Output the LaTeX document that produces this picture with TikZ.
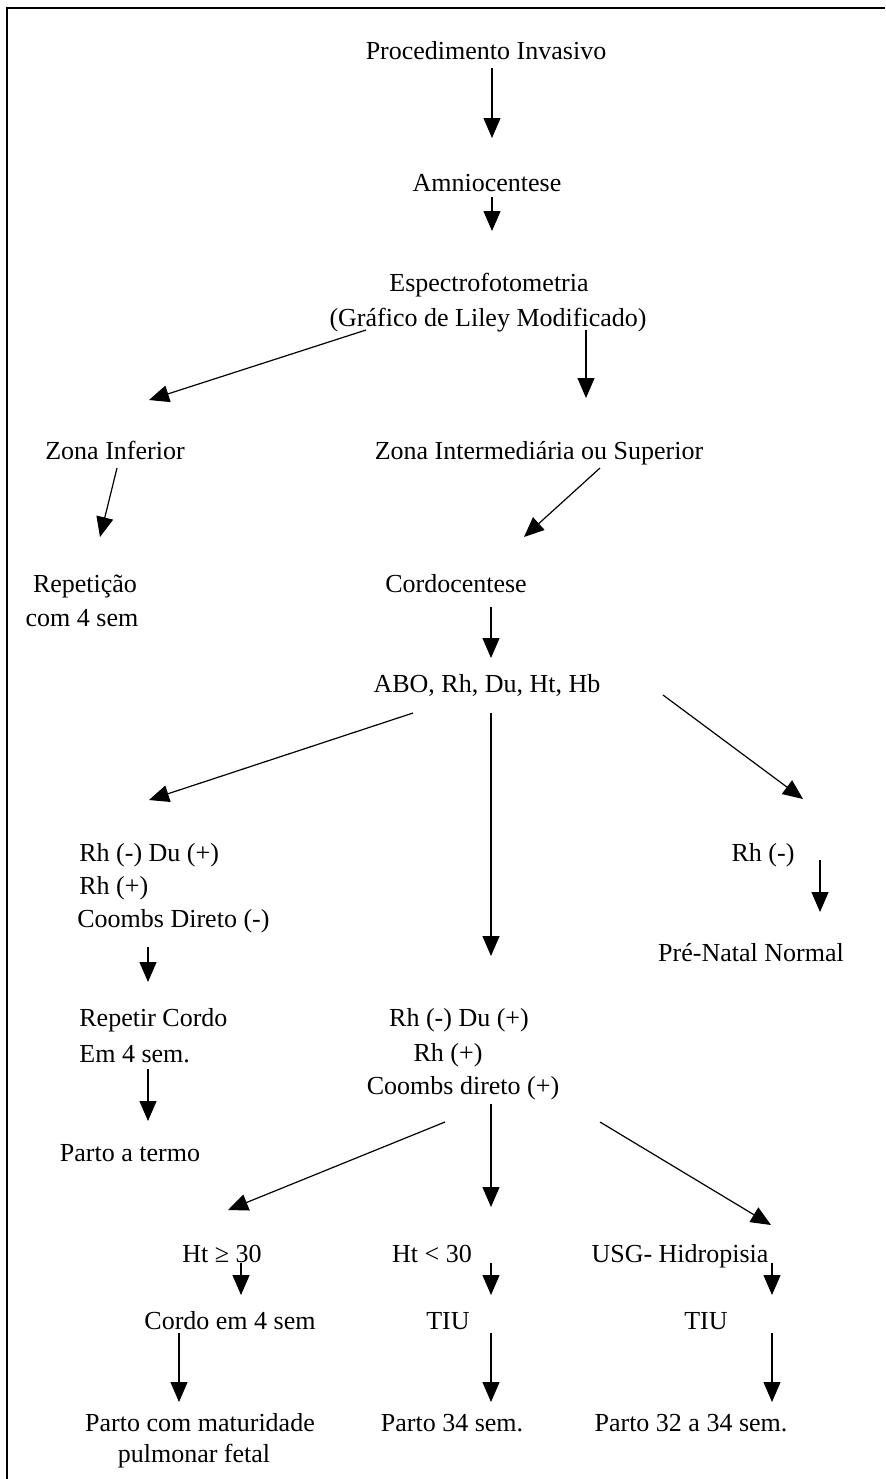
\documentclass[tikz,border=0pt]{standalone}
\usepackage{fontspec}
\setmainfont{Liberation Serif}
\usetikzlibrary{arrows.meta}
\begin{document}
\begin{tikzpicture}[x=0.5pt,y=-0.5pt,
  txt/.style={inner sep=0pt,anchor=base,font=\fontsize{13pt}{15pt}\selectfont},
  txtl/.style={txt,anchor=base west},
  arr/.style={line width=0.6pt,-{Triangle[length=10pt,width=8.5pt]}},
  frame/.style={line width=1pt}]
\useasboundingbox (0,0) rectangle (885,1479);
% frame
\coordinate (fbl) at (7,1479);
\coordinate (ftl) at (7,8);
\coordinate (ftr) at (885,8);
\draw[frame] (fbl) -- (ftl) -- (ftr);
% texts
\node[txt] (proc) at (486,59) {Procedimento Invasivo};
\node[txt] (amnio) at (487,191) {Amniocentese};
\node[txt] (espec) at (489,291) {Espectrofotometria};
\node[txt] (graf) at (488,326) {(Gráfico de Liley Modificado)};
\node[txt] (zinf) at (115,459) {Zona Inferior};
\node[txt] (zint) at (539,459) {Zona Intermediária ou Superior};
\node[txt] (rep1) at (85,592) {Repetição};
\node[txt] (rep2) at (82,626) {com 4 sem};
\node[txt] (cordo) at (456,592) {Cordocentese};
\node[txt] (abo) at (487,692) {ABO, Rh, Du, Ht, Hb};
\node[txtl] (l1) at (79,861) {Rh (-) Du (+)};
\node[txtl] (l2) at (79,894) {Rh (+)};
\node[txtl] (l3) at (77,927) {Coombs Direto (-)};
\node[txt] (r1) at (763,861) {Rh (-)};
\node[txt] (pren) at (751,961) {Pré-Natal Normal};
\node[txtl] (rc1) at (79,1026) {Repetir Cordo};
\node[txtl] (rc2) at (79,1062) {Em 4 sem.};
\node[txt] (m1) at (459,1026) {Rh (-) Du (+)};
\node[txt] (m2) at (448,1061) {Rh (+)};
\node[txt] (m3) at (463,1094) {Coombs direto (+)};
\node[txt] (termo) at (130,1161) {Parto a termo};
\node[txt] (ht1) at (222,1262) {Ht ≥ 30};
\node[txt] (ht2) at (432,1262) {Ht < 30};
\node[txt] (usg) at (680,1262) {USG- Hidropisia};
\node[txt] (c4) at (230,1329) {Cordo em 4 sem};
\node[txt] (tiu1) at (448,1329) {TIU};
\node[txt] (tiu2) at (706,1329) {TIU};
\node[txt] (pm1) at (200,1431) {Parto com maturidade};
\node[txt] (pm2) at (194,1462) {pulmonar fetal};
\node[txt] (p34) at (452,1431) {Parto 34 sem.};
\node[txt] (p32) at (691,1431) {Parto 32 a 34 sem.};
% arrows
\foreach \i/\sx/\sy/\ex/\ey in {
  1/492/68/492/138, 2/492/197/492/231, 3/366/330/149/400, 4/586/330/586/398,
  5/117/468/100/537, 6/600/468/524/537, 7/491/607/491/658, 8/413/713/149/800,
  9/491/713/491/956, 10/663/695/803/799, 11/820/860/820/912, 12/148/947/148/982,
  13/148/1069/148/1121, 14/445/1122/228/1210, 15/491/1104/491/1207, 16/600/1122/771/1225,
  17/241/1263/241/1295, 18/491/1263/491/1295, 19/772/1263/772/1295,
  20/179/1333/179/1402, 21/491/1333/491/1402, 22/772/1333/772/1402}{
  \coordinate (s\i) at (\sx,\sy);
  \coordinate (e\i) at (\ex,\ey);
  \draw[arr] (s\i) -- (e\i);
}
\end{tikzpicture}
\end{document}
